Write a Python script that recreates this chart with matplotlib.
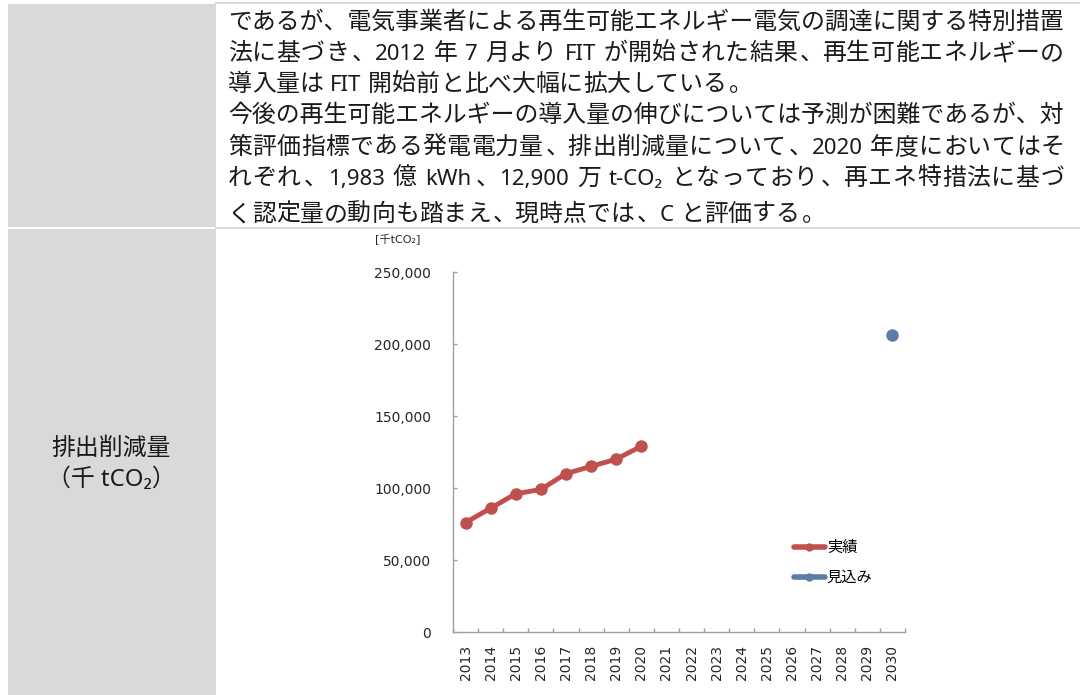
import re
import numpy as np
import matplotlib
matplotlib.use('Agg')
import matplotlib.pyplot as plt
from matplotlib.lines import Line2D
from matplotlib.patches import Rectangle
from matplotlib.ticker import FuncFormatter

JP = 'Noto Sans CJK JP'
plt.rcParams['font.family'] = ['DejaVu Sans', JP]

# chart data (thousand t-CO2)
years = [str(y) for y in range(2013, 2031)]
actual_years = ['2013', '2014', '2015', '2016', '2017', '2018', '2019', '2020']
actual = [76000, 86000, 96000, 99000, 110000, 115000, 120000, 129000]
outlook_years = ['2030']
outlook = [206000]
yticks = [0, 50000, 100000, 150000, 200000, 250000]
legend_labels = ['実績', '見込み']
unit_label = '[千tCO₂]'

row_label = ['排出削減量', '（千 tCO₂）']
paragraph = [
    'であるが、電気事業者による再生可能エネルギー電気の調達に関する特別措置',
    '法に基づき、2012 年 7 月より FIT が開始された結果、再生可能エネルギーの',
    '導入量は FIT 開始前と比べ大幅に拡大している。',
    '今後の再生可能エネルギーの導入量の伸びについては予測が困難であるが、対',
    '策評価指標である発電電力量、排出削減量について、2020 年度においてはそ',
    'れぞれ、1,983 億 kWh、12,900 万 t-CO₂ となっており、再エネ特措法に基づ',
    'く認定量の動向も踏まえ、現時点では、C と評価する。',
]
justified = [True, True, False, True, True, True, False]

W, H = 1080, 695
red = '#c0504d'
blue = '#5b7da6'
gray = '#d9d9d9'
axis_color = '#a0a0a0'
text_color = '#1a1a1a'
tick_color = '#262626'

fig = plt.figure(figsize=(W / 100, H / 100), dpi=100)
bg = fig.add_axes([0, 0, 1, 1])
bg.set_xlim(0, W)
bg.set_ylim(H, 0)
bg.axis('off')

# table cells
bg.add_patch(Rectangle((8, 4), 208, 223, color=gray, lw=0))
bg.add_patch(Rectangle((8, 229), 208, H - 229, color=gray, lw=0))
bg.plot([216, W], [3, 3], color=gray, lw=1.5)
bg.plot([216, W], [228, 228], color=gray, lw=1.5)

# paragraph, laid out token by token so full lines can be justified
renderer = fig.canvas.get_renderer()
EM = 17.2
LAT = 16
LAT_FAMILY = ['Noto Sans', 'DejaVu Sans']
em_px = EM * 100 / 72


def ink_width(s, size, family):
    t = bg.text(0, 0, s, fontsize=size, family=family)
    w = t.get_window_extent(renderer).width
    t.remove()
    return w


def draw_line(s, x0, x1, base, justify):
    toks = re.findall(r'[!-~\u2082]+| |.', s)
    widths = []
    for tok in toks:
        if tok == ' ':
            widths.append(0.22 * em_px)
        elif tok[0].isascii():
            widths.append(ink_width(tok, LAT, LAT_FAMILY) + 0.12 * em_px)
        else:
            widths.append(em_px)
    step = (x1 - x0 - sum(widths)) / (len(toks) - 1) if justify else 0
    if all(not t[0].isascii() for t in toks) and abs(step) < 0.5:
        # a line of full-width characters only fills the box by itself
        bg.text(x0, base, s, fontsize=EM, color=text_color, family=JP,
                ha='left', va='baseline')
        return
    x = x0
    for tok, w in zip(toks, widths):
        if tok == ' ':
            pass
        elif tok[0].isascii():
            bg.text(x + 0.06 * em_px, base, tok, fontsize=LAT, color=text_color,
                    family=LAT_FAMILY, ha='left', va='baseline')
        elif tok in '、。':
            bg.text(x + 0.1 * em_px, base, tok, fontsize=EM, color=text_color,
                    family=JP, ha='left', va='baseline')
        else:
            bg.text(x + w / 2, base, tok, fontsize=EM, color=text_color,
                    family=JP, ha='center', va='baseline')
        x += w + step


baselines = [29, 60, 91, 122, 154, 185, 221]
for line, base, just in zip(paragraph, baselines, justified):
    draw_line(line, 228, 1064, base, just)

bg.text(111.5, 448, row_label[0], fontsize=EM, family=JP, color=text_color,
        ha='center', va='center')
bg.text(111.5, 480, row_label[1], fontsize=EM, family=['Noto Sans', JP],
        color=text_color, ha='center', va='center')

# chart
ax = fig.add_axes([453 / W, 1 - 632 / H, (905 - 453) / W, (632 - 272) / H])
x = np.arange(len(years))
xa = [years.index(y) for y in actual_years]
xo = [years.index(y) for y in outlook_years]
ax.plot(xa, actual, color=red, lw=3.5, marker='o', ms=9, mew=0,
        solid_capstyle='round', solid_joinstyle='round')
ax.plot(xo, outlook, color=blue, lw=0, marker='o', ms=9, mew=0)

ax.set_xlim(-0.5, len(years) - 0.5)
ax.set_ylim(yticks[0], yticks[-1])
ax.set_yticks(yticks)
ax.yaxis.set_major_formatter(FuncFormatter(lambda v, p: f'{int(v):,}'))
ax.set_xticks(x)
ax.set_xticklabels(years, rotation=90)
ax.set_xticks(np.arange(-0.5, len(years)), minor=True)

ax.tick_params(axis='x', which='major', length=0, pad=9.4, labelsize=10,
               labelcolor=tick_color)
ax.tick_params(axis='x', which='minor', direction='in', length=3,
               color=axis_color, width=1)
ax.tick_params(axis='y', direction='in', length=3, color=axis_color, width=1,
               pad=15.8, labelsize=10, labelcolor=tick_color)
for side in ['top', 'right']:
    ax.spines[side].set_visible(False)
for side in ['left', 'bottom']:
    ax.spines[side].set_color(axis_color)
    ax.spines[side].set_linewidth(1)

handles = [Line2D([], [], color=c, lw=4, marker='o', ms=6, mew=0,
                  solid_capstyle='round') for c in (red, blue)]
ax.legend(handles, legend_labels, loc='upper left',
          bbox_to_anchor=(794 / W, 1 - 539 / H), bbox_transform=fig.transFigure,
          frameon=False, borderpad=0, borderaxespad=0, handlelength=2.0,
          handletextpad=0.15, labelspacing=0.85,
          prop={'family': JP, 'size': 11})

bg.text(398, 240, unit_label, fontsize=8, color=tick_color,
        ha='center', va='center')

fig.savefig('out.png', dpi=100)
